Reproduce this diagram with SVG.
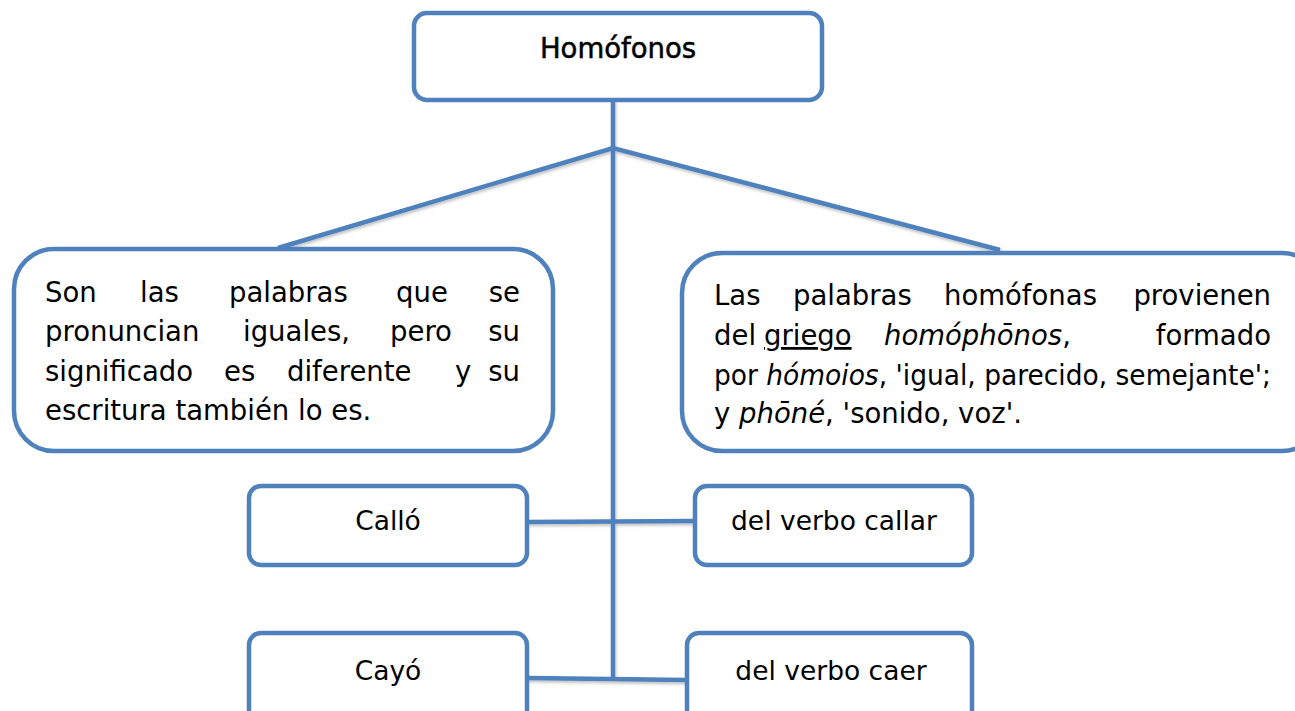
<svg xmlns="http://www.w3.org/2000/svg" width="1295" height="711" viewBox="0 0 1295 711">
<defs>
<style>
.box{fill:#ffffff;stroke:#4f81bd;stroke-width:4.5}
.ln{fill:none;stroke:#4f81bd;stroke-width:4.5;stroke-linecap:butt}
.t{font-family:"DejaVu Sans","Noto Sans",sans-serif;font-size:27.5px;fill:#000}
.s{font-size:26.5px}
.c{text-anchor:middle}
.e{text-anchor:end}
.i{font-style:italic}
.h{stroke:#000;stroke-width:0.5}
</style>
<filter id="sh" x="-5%" y="-5%" width="110%" height="110%">
<feDropShadow dx="1" dy="2" stdDeviation="1.5" flood-color="#000" flood-opacity="0.25"/>
</filter>
</defs>
<g id="connectors" filter="url(#sh)">
<line class="ln" x1="613" y1="100" x2="613" y2="679"/>
<polyline class="ln" points="278,248 613,148 1000,250"/>
<line class="ln" x1="527" y1="522" x2="695" y2="521"/>
<line class="ln" x1="527" y1="678" x2="687" y2="680"/>
</g>
<g id="homofonos">
<rect class="box" x="414" y="13" width="408" height="87" rx="13"/>
<text class="t c h" x="618" y="58">Homófonos</text>
</g>
<g id="definicion">
<rect class="box" x="14" y="249" width="539" height="202" rx="40"/>
<text class="t" y="302"><tspan x="45">Son</tspan><tspan x="140">las</tspan><tspan x="229">palabras</tspan><tspan x="396">que</tspan></text>
<text class="t e" x="520" y="302">se</text>
<text class="t" y="341"><tspan x="45">pronuncian</tspan><tspan x="243">iguales,</tspan><tspan x="390">pero</tspan></text>
<text class="t e" x="520" y="341">su</text>
<text class="t" y="381"><tspan x="45">significado</tspan><tspan x="224">es</tspan><tspan x="287">diferente</tspan><tspan x="455">y</tspan></text>
<text class="t e" x="520" y="381">su</text>
<text class="t" x="45" y="420">escritura también lo es.</text>
</g>
<g id="origen">
<rect class="box" x="682" y="253" width="640" height="198" rx="40"/>
<text class="t" y="305"><tspan x="714">Las</tspan><tspan x="793">palabras</tspan><tspan x="944">homófonas</tspan></text>
<text class="t e" x="1271" y="305">provienen</text>
<text class="t" y="345"><tspan x="714">del</tspan><tspan x="764" text-decoration="underline">griego</tspan><tspan x="884" class="i">homóphōnos</tspan><tspan>,</tspan></text>
<text class="t e" x="1271" y="345">formado</text>
<text class="t" x="714" y="385" textLength="557" lengthAdjust="spacingAndGlyphs">por <tspan class="i">hómoios</tspan>, 'igual, parecido, semejante';</text>
<text class="t" x="714" y="423">y <tspan class="i">phōné</tspan>, 'sonido, voz'.</text>
</g>
<g id="callo">
<rect class="box" x="249" y="486" width="278" height="79" rx="12"/>
<text class="t s c" x="388" y="530">Calló</text>
</g>
<g id="callar">
<rect class="box" x="695" y="486" width="277" height="79" rx="12"/>
<text class="t s c" x="834" y="530">del verbo callar</text>
</g>
<g id="cayo">
<rect class="box" x="249" y="633" width="278" height="90" rx="12"/>
<text class="t s c" x="388" y="680">Cayó</text>
</g>
<g id="caer">
<rect class="box" x="687" y="633" width="285" height="90" rx="12"/>
<text class="t s c" x="831" y="680">del verbo caer</text>
</g>
</svg>
